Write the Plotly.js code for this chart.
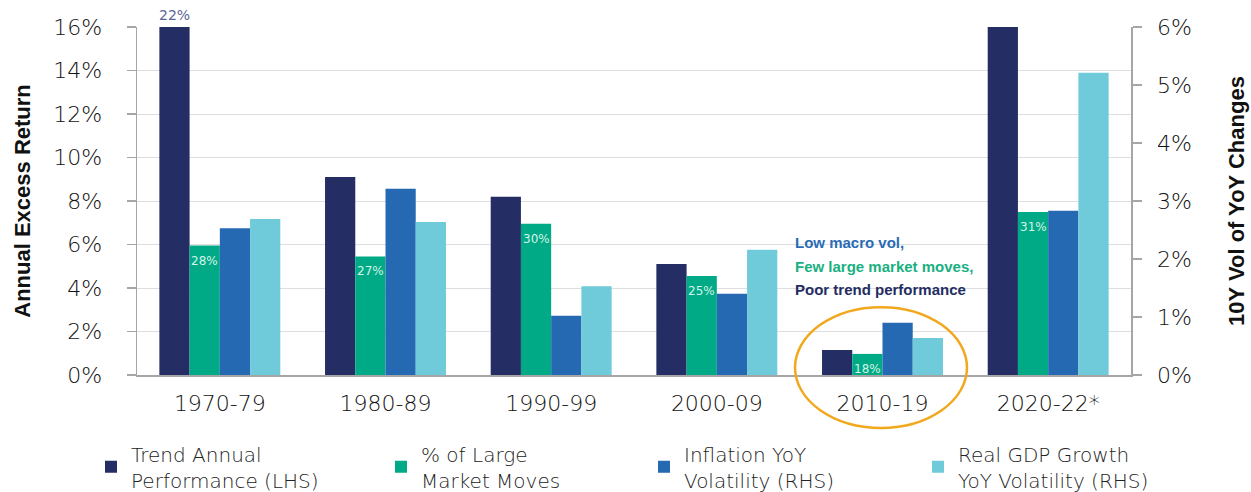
<!DOCTYPE html>
<html>
<head>
<meta charset="utf-8">
<script src="https://cdn.plot.ly/plotly-3.0.1.min.js"></script>
<style>html,body{margin:0;padding:0;background:#fff;}#chart{width:1251px;height:492px;}</style>
</head>
<body>
<div id="chart"></div>
<script>
// ---- data ----
const categories = ['1970-79', '1980-89', '1990-99', '2000-09', '2010-19', '2020-22*'];
const trendPerf = [22, 9.1, 8.2, 5.1, 1.15, 17];          // Trend Annual Performance (LHS), %
const largeMovesBar = [5.95, 5.45, 6.95, 4.55, 0.97, 7.5];  // bar height of % of Large Market Moves
const largeMovesLabel = ['28%', '27%', '30%', '25%', '18%', '31%'];
const inflationVol = [2.53, 3.21, 1.02, 1.40, 0.90, 2.83];  // Inflation YoY Volatility (RHS), %
const gdpVol = [2.69, 2.64, 1.53, 2.16, 0.64, 5.21];        // Real GDP Growth YoY Volatility (RHS), %
const trendLabel = '22%';
const leftRange = [0, 16];
const rightRange = [0, 6];
const legendNames = ['Trend Annual<br>Performance (LHS)', '% of Large<br>Market Moves',
                     'Inflation YoY<br>Volatility (RHS)', 'Real GDP Growth<br>YoY Volatility (RHS)'];
const notes = ['Low macro vol,', 'Few large market moves,', 'Poor trend performance'];

// ---- style ----
const W = 1251, H = 492;
const M = {l: 137, r: 120, t: 27, b: 117, autoexpand: false};
const plotW = W - M.l - M.r;
const bargap = 0.27;
const colors = ['#242e64', '#00aa86', '#2569b3', '#6fcad9'];
const tickFont = {family: 'DejaVu Sans', size: 22, color: '#111', weight: 300};
const titleFont = {family: 'Liberation Sans', size: 22, color: '#111', weight: 'bold'};
const axisGray = '#a6a6a6';
const barW = plotW / categories.length * (1 - bargap) / 4;

function bar(y, i, axis) {
  return {
    type: 'bar', x: categories, y: y, name: legendNames[i],
    yaxis: axis, marker: {color: colors[i]},
    offsetgroup: String(i), alignmentgroup: 'all',
    legend: i === 0 ? 'legend' : 'legend' + (i + 1),
    hoverinfo: 'skip'
  };
}
const data = [
  bar(trendPerf, 0, 'y'),
  bar(largeMovesBar, 1, 'y'),
  bar(inflationVol, 2, 'y2'),
  bar(gdpVol, 3, 'y2')
];

const legendX = [91, 381, 644, 918];
function legendCfg(k) {
  return {
    xref: 'paper', x: (legendX[k] - M.l) / plotW, xanchor: 'left',
    yref: 'paper', y: -0.264, yanchor: 'middle',
    bgcolor: 'rgba(0,0,0,0)', borderwidth: 0,
    font: {family: 'DejaVu Sans', size: 20, color: '#222', weight: 300},
    valign: 'middle'
  };
}

const annotations = [];
annotations.push({
  x: categories[0], y: leftRange[1], xref: 'x', yref: 'y', text: trendLabel,
  showarrow: false, yanchor: 'bottom', xshift: -1.5 * barW, yshift: 2,
  font: {family: 'DejaVu Sans', size: 14, color: '#5b6696'}
});
categories.forEach((c, i) => {
  annotations.push({
    x: c, y: largeMovesBar[i], xref: 'x', yref: 'y', text: largeMovesLabel[i],
    showarrow: false, yanchor: 'middle', xshift: -0.5 * barW, yshift: -15,
    font: {family: 'DejaVu Sans', size: 12, color: '#d4f3e8'}
  });
});
const noteColors = ['#2a6bb5', '#19b07f', '#232d63'];
const noteY = [0.382, 0.313, 0.246];
notes.forEach((t, i) => {
  annotations.push({
    x: 0.66, y: noteY[i], xref: 'paper', yref: 'paper', text: t,
    showarrow: false, xanchor: 'left', yanchor: 'middle',
    font: {family: 'Liberation Sans', size: 15, color: noteColors[i], weight: 'bold'}
  });
});

const layout = {
  width: W, height: H, autosize: false,
  margin: M,
  paper_bgcolor: '#fff', plot_bgcolor: '#fff',
  barmode: 'group', bargap: bargap, bargroupgap: 0,
  showlegend: true,
  legend: legendCfg(0), legend2: legendCfg(1), legend3: legendCfg(2), legend4: legendCfg(3),
  xaxis: {
    type: 'category', showline: true, linecolor: axisGray, linewidth: 1.5,
    ticks: '', tickfont: tickFont, ticklabelstandoff: 8, fixedrange: true
  },
  yaxis: {
    range: leftRange, dtick: 2, ticksuffix: '%', showgrid: true, gridcolor: '#dedede', gridwidth: 1,
    showline: true, linecolor: axisGray, linewidth: 1.5, zeroline: false,
    ticks: 'outside', ticklen: 9, tickcolor: axisGray, tickwidth: 1.2,
    tickfont: tickFont, ticklabelstandoff: 20,
    title: {text: 'Annual Excess Return', font: titleFont, standoff: 16}
  },
  yaxis2: {
    overlaying: 'y', side: 'right', range: rightRange, dtick: 1, ticksuffix: '%',
    showgrid: false, showline: true, linecolor: axisGray, linewidth: 1.5, zeroline: false,
    ticks: 'outside', ticklen: 9, tickcolor: axisGray, tickwidth: 1.2,
    tickfont: tickFont, ticklabelstandoff: 11,
    title: {text: '10Y Vol of YoY Changes', font: titleFont, standoff: 38}
  },
  annotations: annotations,
  shapes: [{
    type: 'circle', xref: 'paper', yref: 'paper',
    x0: 0.662, x1: 0.835, y0: -0.152, y1: 0.195,
    line: {color: '#f2a81d', width: 2.5}, fillcolor: 'rgba(0,0,0,0)'
  }]
};

Plotly.newPlot('chart', data, layout, {displayModeBar: false, staticPlot: true});
</script>
</body>
</html>
